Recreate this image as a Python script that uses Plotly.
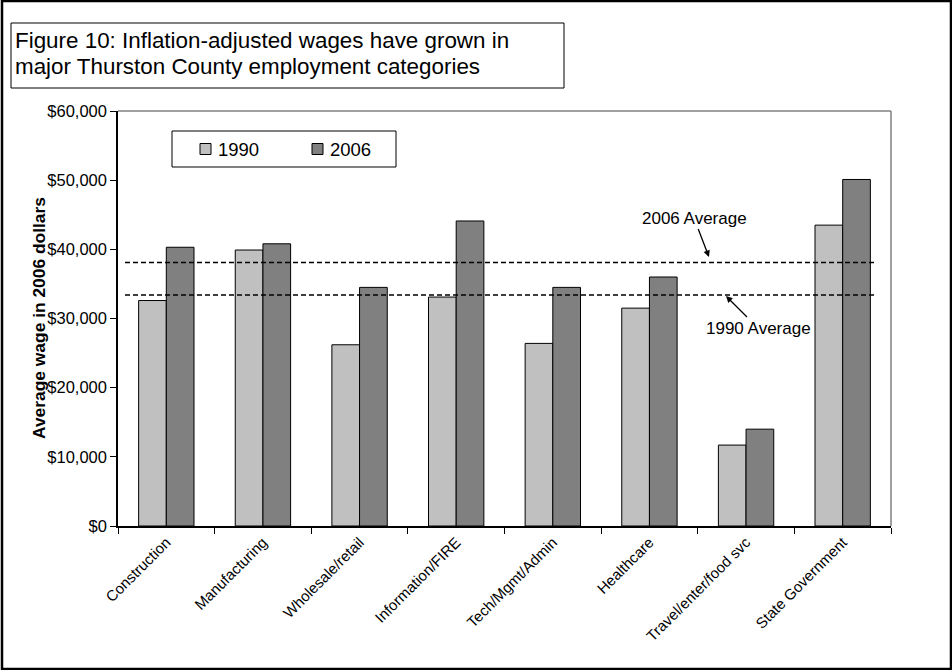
import plotly.graph_objects as go

categories = ["Construction", "Manufacturing", "Wholesale/retail", "Information/FIRE",
              "Tech/Mgmt/Admin", "Healthcare", "Travel/enter/food svc", "State Government"]
wages_1990 = [32600, 39900, 26200, 33100, 26400, 31500, 11700, 43500]
wages_2006 = [40300, 40800, 34500, 44100, 34500, 36000, 14000, 50100]
avg_1990 = 33400
avg_2006 = 38100
series_names = ["1990", "2006"]
series_colors = ["#C0C0C0", "#808080"]
y_ticks = [0, 10000, 20000, 30000, 40000, 50000, 60000]
y_tick_labels = ["$0", "$10,000", "$20,000", "$30,000", "$40,000", "$50,000", "$60,000"]

W, H = 952, 670
L, R, T, B = 118, 891, 111, 526
FONT = "Arial, Liberation Sans, sans-serif"


def px(x):
    return (x - L) / (R - L)


def py(y):
    return (B - y) / (B - T)


fig = go.Figure()
for name, vals, col in zip(series_names, [wages_1990, wages_2006], series_colors):
    fig.add_trace(go.Bar(name=name, x=categories, y=vals, showlegend=False,
                         marker=dict(color=col, line=dict(color="#000000", width=1))))

shapes = [
    # outer frame
    dict(type="rect", xref="paper", yref="paper", x0=px(2), x1=px(951), y0=py(1), y1=py(669),
         line=dict(color="black", width=2.5), layer="below"),
    # title box
    dict(type="rect", xref="paper", yref="paper", x0=px(11), x1=px(564), y0=py(23), y1=py(88),
         line=dict(color="black", width=1), fillcolor="white"),
    # plot area border (top/right gray)
    dict(type="line", xref="paper", yref="paper", x0=0, x1=1, y0=1, y1=1,
         line=dict(color="#808080", width=1.5)),
    dict(type="line", xref="paper", yref="paper", x0=1, x1=1, y0=0, y1=1,
         line=dict(color="#808080", width=1.5)),
    # averages
    dict(type="line", xref="paper", yref="y", x0=px(125), x1=px(876), y0=avg_2006, y1=avg_2006,
         line=dict(color="black", width=1.5, dash="5px,3px")),
    dict(type="line", xref="paper", yref="y", x0=px(125), x1=px(876), y0=avg_1990, y1=avg_1990,
         line=dict(color="black", width=1.5, dash="5px,3px")),
    # legend box
    dict(type="rect", xref="paper", yref="paper", x0=px(172), x1=px(396), y0=py(131), y1=py(167),
         line=dict(color="black", width=1), fillcolor="white"),
]

annotations = [
    dict(xref="paper", yref="paper", x=px(13), y=py(41), xanchor="left", yanchor="middle",
         text="Figure 10: Inflation-adjusted wages have grown in",
         showarrow=False, align="left", font=dict(family=FONT, size=22.4, color="black")),
    dict(xref="paper", yref="paper", x=px(13), y=py(66), xanchor="left", yanchor="middle",
         text="major Thurston County employment categories",
         showarrow=False, align="left", font=dict(family=FONT, size=22.4, color="black")),
    dict(xref="paper", yref="paper", x=px(27), y=py(318), textangle=-90,
         text="<b>Average wage in 2006 dollars</b>", showarrow=False,
         font=dict(family=FONT, size=17.4, color="black")),
    dict(xref="paper", yref="paper", x=px(709), y=py(257), ax=-15, ay=-39,
         text="2006 Average", showarrow=True, arrowhead=2, arrowsize=1, arrowwidth=1.3,
         arrowcolor="black", standoff=0, font=dict(family=FONT, size=17, color="black")),
    dict(xref="paper", yref="paper", x=px(726), y=py(296), ax=32, ay=32,
         text="1990 Average", showarrow=True, arrowhead=2, arrowsize=1, arrowwidth=1.3,
         arrowcolor="black", standoff=0, font=dict(family=FONT, size=17, color="black")),
]

# manual legend entries
legend_swatch_x = [200, 312]
for name, col, sx in zip(series_names, series_colors, legend_swatch_x):
    shapes.append(dict(type="rect", xref="paper", yref="paper", x0=px(sx), x1=px(sx + 11),
                       y0=py(143.5), y1=py(154.5), line=dict(color="black", width=1),
                       fillcolor=col))
    annotations.append(dict(xref="paper", yref="paper", x=px(sx + 16), y=py(149.5),
                            xanchor="left", yanchor="middle", text=name, showarrow=False,
                            font=dict(family=FONT, size=18.5, color="black")))

fig.update_layout(
    width=W, height=H,
    margin=dict(l=L, r=W - R, t=T, b=H - B, pad=0),
    paper_bgcolor="white", plot_bgcolor="white",
    barmode="group", bargap=0.427, bargroupgap=0,
    font=dict(family=FONT, size=14, color="black"),
    showlegend=False,
    shapes=shapes, annotations=annotations,
    xaxis=dict(type="category", showline=True, linecolor="black", linewidth=1.5,
               ticks="outside", tickson="boundaries", ticklen=6, tickcolor="black",
               tickangle=-45, tickfont=dict(family=FONT, size=15, color="black"),
               showgrid=False, zeroline=False, fixedrange=True),
    yaxis=dict(range=[0, 60000], tickvals=y_ticks, ticktext=y_tick_labels,
               showline=True, linecolor="black", linewidth=1.5, ticks="outside",
               ticklen=6, tickcolor="black", showgrid=False, zeroline=False,
               tickfont=dict(family=FONT, size=16.5, color="black"), fixedrange=True),
)

fig.write_html("out.html")
